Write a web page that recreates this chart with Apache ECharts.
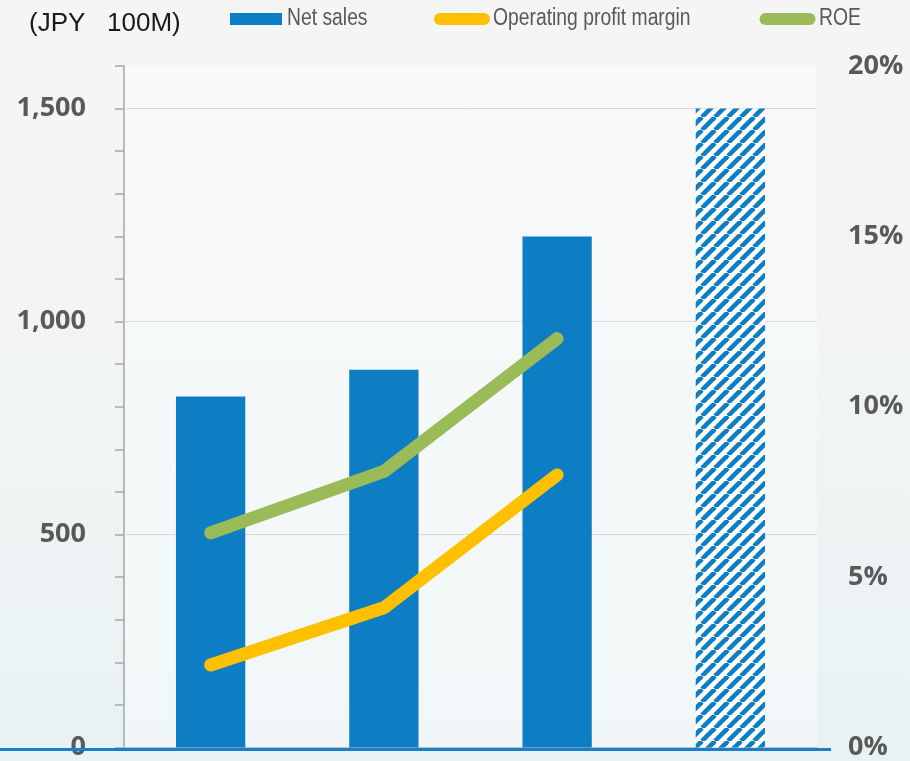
<!DOCTYPE html>
<html>
<head>
<meta charset="utf-8">
<script src="https://cdn.jsdelivr.net/npm/echarts@6/dist/echarts.min.js"></script>
<style>
  html, body { margin: 0; padding: 0; }
  body {
    width: 910px; height: 761px; overflow: hidden;
    background: linear-gradient(180deg, #f5f5f5 0%, #f2f4f4 45%, #e8f2f3 100%);
  }
  #chart { width: 910px; height: 761px; }
</style>
</head>
<body>
<div id="chart"></div>
<script>
// Four fiscal periods; the last one is the forecast target (hatched bar).
const categories = ['FY1', 'FY2', 'FY3', 'Target'];
const netSales = [824, 887, 1200, 1500];            // JPY 100M
const operatingMargin = [2.42, 4.1, 8.0, null];     // %
const roe = [6.3, 8.1, 12.0, null];                  // %
const salesTicks = [0, 500, 1000, 1500];
const pctTicks = [0, 5, 10, 15, 20];
const seriesNames = ['Net sales', 'Operating profit margin', 'ROE'];

const BLUE = '#0e7ec4';
const ORANGE = '#ffc000';
const GREEN = '#9bbb59';
const LABEL = '#595959';

// Diagonal stripe fill for the target bar
function stripePattern() {
  const n = 13;
  const c = document.createElement('canvas');
  c.width = n; c.height = n;
  const g = c.getContext('2d');
  g.fillStyle = '#ffffff';
  g.fillRect(0, 0, n, n);
  g.strokeStyle = BLUE;
  g.lineWidth = 4.6;
  for (let k = -1; k <= 1; k++) {
    g.beginPath();
    g.moveTo(k * n, n);
    g.lineTo(k * n + n, 0);
    g.stroke();
  }
  return c;
}

const pillIcon = 'path://M6,0 L50,0 A6,6 0 0 1 50,12 L6,12 A6,6 0 0 1 6,0 Z';
const axisFont = { fontFamily: '"Open Sans", "Noto Sans", sans-serif', fontWeight: 700, fontSize: 27, color: LABEL };

// Condensed legend captions (narrow sans drawn by horizontal scaling)
function legendCaption(text, x) {
  return {
    type: 'text', x: x, y: 19, scaleX: 0.84,
    style: {
      text: text, x: 0, y: 0,
      font: '23px "Liberation Sans", Arial, sans-serif',
      fill: LABEL, textVerticalAlign: 'middle', textAlign: 'left'
    }
  };
}

const chart = echarts.init(document.getElementById('chart'), null, { renderer: 'canvas' });

const barData = netSales.map((v, i) => i === categories.length - 1
  ? { value: v, itemStyle: { color: { image: stripePattern(), repeat: 'repeat' } } }
  : v);

const legendBase = { top: 13, padding: 0, itemHeight: 12, formatter: () => '', textStyle: { fontSize: 1 } };

chart.setOption({
  animation: false,
  backgroundColor: 'transparent',
  title: {
    text: '(JPY   100M)',
    left: 24, top: 6,
    textStyle: { fontFamily: '"Liberation Sans", Arial, sans-serif', fontWeight: 'normal', fontSize: 26, color: '#1a1a1a' }
  },
  legend: [
    Object.assign({ data: [seriesNames[0]], left: 230, itemWidth: 52, icon: 'rect' }, legendBase),
    Object.assign({ data: [seriesNames[1]], left: 433, itemWidth: 58, icon: pillIcon }, legendBase),
    Object.assign({ data: [seriesNames[2]], left: 758, itemWidth: 59, icon: pillIcon }, legendBase)
  ],
  grid: {
    left: 124, right: 93, top: 66, bottom: 11,
    show: true, borderWidth: 0,
    backgroundColor: new echarts.graphic.LinearGradient(0, 0, 0, 1, [
      { offset: 0, color: '#f9f9f9' },
      { offset: 1, color: '#f1f7f8' }
    ])
  },
  xAxis: {
    type: 'category',
    data: categories,
    axisLine: { lineStyle: { color: '#bfbfbf', width: 1 } },
    axisTick: { show: false },
    axisLabel: { show: false }
  },
  yAxis: [
    {
      type: 'value', min: 0, max: 1600, interval: 100,
      axisLine: { show: true, lineStyle: { color: '#a6a6a6', width: 1.5 } },
      axisTick: { show: true, length: 9, lineStyle: { color: '#a6a6a6', width: 1.5 } },
      splitLine: { show: false },
      axisLabel: Object.assign({
        margin: 38,
        formatter: v => salesTicks.includes(v) ? v.toLocaleString('en-US') : ''
      }, axisFont)
    },
    {
      type: 'value', min: pctTicks[0], max: pctTicks[pctTicks.length - 1], interval: 5,
      position: 'right',
      axisLine: { show: false },
      axisTick: { show: false },
      splitLine: { show: false },
      axisLabel: Object.assign({ margin: 31, formatter: '{value}%' }, axisFont)
    }
  ],
  series: [
    {
      name: seriesNames[0],
      type: 'bar',
      data: barData,
      barWidth: '40%',
      itemStyle: { color: BLUE },
      markLine: {
        silent: true, symbol: 'none', z: 1,
        label: { show: false },
        lineStyle: { color: '#d9d9d9', width: 1, type: 'solid' },
        data: salesTicks.filter(v => v > 0).map(v => ({ yAxis: v }))
      }
    },
    {
      name: seriesNames[1],
      type: 'line',
      yAxisIndex: 1,
      data: operatingMargin,
      symbol: 'none',
      color: ORANGE,
      lineStyle: { color: ORANGE, width: 13, cap: 'round', join: 'round' },
      z: 3
    },
    {
      name: seriesNames[2],
      type: 'line',
      yAxisIndex: 1,
      data: roe,
      symbol: 'none',
      color: GREEN,
      lineStyle: { color: GREEN, width: 13, cap: 'round', join: 'round' },
      z: 3
    }
  ]
});

// Blue baseline rule running under the chart, aligned to the zero value
const y0 = chart.convertToPixel({ yAxisIndex: 0 }, 0);
chart.setOption({
  graphic: [
    {
      type: 'rect', z: 10,
      shape: { x: 0, y: y0 + 0.5, width: 831, height: 3 },
      style: { fill: '#1a7fc8' }
    },
    legendCaption(seriesNames[0], 287),
    legendCaption(seriesNames[1], 493),
    legendCaption(seriesNames[2], 819)
  ]
});
</script>
</body>
</html>
